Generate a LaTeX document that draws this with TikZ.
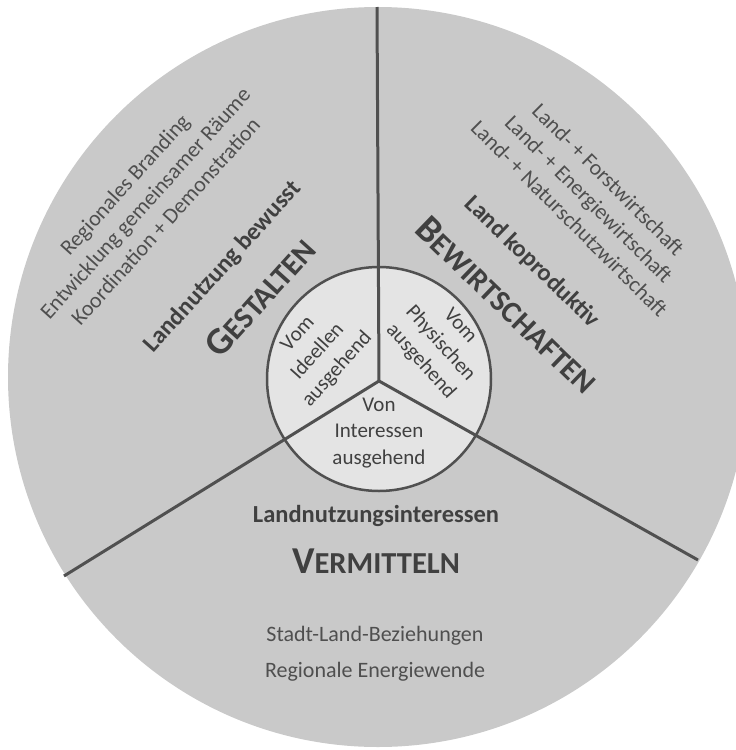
\documentclass[tikz,border=0pt]{standalone}
\usepackage{fontspec}
\setmainfont{Carlito}
\definecolor{discfill}{HTML}{C9C9C9}
\definecolor{hubfill}{HTML}{E4E4E4}
\definecolor{rimline}{HTML}{505050}
\definecolor{inktext}{HTML}{404040}

\newcommand{\capword}[2]{{\fontsize{38}{38}\selectfont #1}{\fontsize{30.5}{30.5}\selectfont #2}}

\tikzset{
  sector/.style={line width=3pt, draw=rimline},
  item/.style={font=\fontsize{22}{27.5}\selectfont, text=inktext!92, align=center},
  motto/.style={font=\fontsize{24.5}{28}\selectfont\bfseries, text=inktext},
  verbtext/.style={font=\bfseries, text=inktext},
  hubtext/.style={font=\fontsize{21}{26.5}\selectfont, text=inktext, align=center}
}

\begin{document}
\begin{tikzpicture}[x=1pt,y=-1pt]
  \useasboundingbox (0,0) rectangle (736,750);

  % Discs
  \fill[discfill] (378,377) circle (370);
  \filldraw[fill=hubfill, draw=rimline, line width=2.5pt] (379,379) circle (112);

  % Sector borders
  \coordinate (hub) at (379,381);
  \coordinate (top) at (377,7);
  \coordinate (sw) at (64,576);
  \coordinate (se) at (698,560);
  \draw[sector] (hub) -- (top);
  \draw[sector] (hub) -- (sw);
  \draw[sector] (hub) -- (se);

  % Gestalten
  \node[item, rotate=48] (gestaltenitems) at (145,203)
    {Regionales Branding\\Entwicklung gemeinsamer Räume\\Koordination + Demonstration};
  \node[motto, rotate=48] (gestaltenmotto) at (223,267) {Landnutzung bewusst};
  \node[verbtext, rotate=48] (gestalten) at (260,297) {\capword{G}{ESTALTEN}};

  % Bewirtschaften
  \node[item, rotate=-45] (bewirtitems) at (589,199)
    {Land- + Forstwirtschaft\\Land- + Energiewirtschaft\\Land- + Naturschutzwirtschaft};
  \node[motto, rotate=-44] (bewirtmotto) at (532,262) {Land koproduktiv};
  \node[verbtext, rotate=-44] (bewirt) at (507,305) {\capword{B}{EWIRTSCHAFTEN}};

  % Vermitteln
  \node[motto] (vermittelnmotto) at (376,516) {Landnutzungsinteressen};
  \node[verbtext] (vermitteln) at (376,561) {\capword{V}{ERMITTELN}};
  \node[item] (stadtland) at (375,636) {Stadt-Land-Beziehungen};
  \node[item] (energiewende) at (375,672) {Regionale Energiewende};

  % Hub
  \node[hubtext, rotate=48] (ideell) at (318,352) {Vom\\Ideellen\\ausgehend};
  \node[hubtext, rotate=-48] (physisch) at (440,344) {Vom\\Physischen\\ausgehend};
  \node[hubtext] (interesse) at (379,433) {Von\\Interessen\\ausgehend};
\end{tikzpicture}
\end{document}
